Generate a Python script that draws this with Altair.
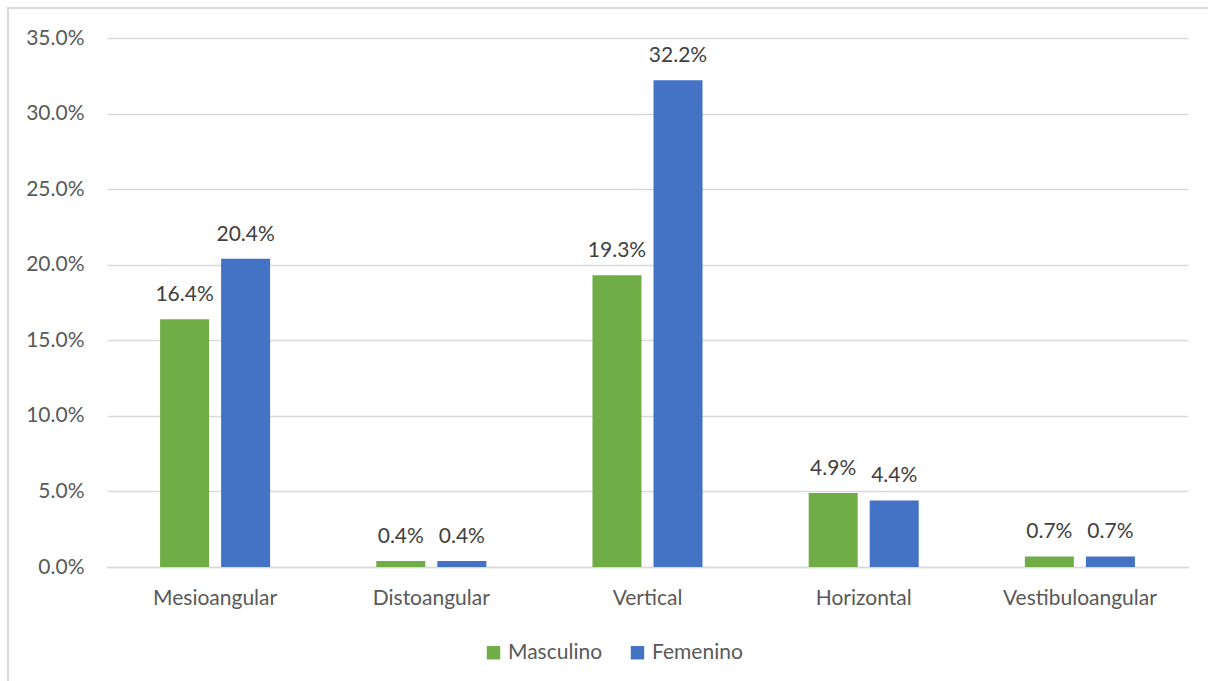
import altair as alt
import pandas as pd

categories = ["Mesioangular", "Distoangular", "Vertical", "Horizontal", "Vestibuloangular"]
masculino = [0.164, 0.004, 0.193, 0.049, 0.007]
femenino = [0.204, 0.004, 0.322, 0.044, 0.007]
series = ["Masculino", "Femenino"]
colors = ["#70AD47", "#4472C4"]
y_ticks = [0.0, 0.05, 0.10, 0.15, 0.20, 0.25, 0.30, 0.35]

rows = []
for i, cat in enumerate(categories):
    rows.append({"categoria": cat, "sexo": series[0], "valor": masculino[i]})
    rows.append({"categoria": cat, "sexo": series[1], "valor": femenino[i]})
df = pd.DataFrame(rows)

FONT = "Lato"
FS = 21
W, H = 1081, 529

x_enc = alt.X("categoria:N", sort=categories, title=None,
              scale=alt.Scale(paddingInner=0.491, paddingOuter=0.2455),
              axis=alt.Axis(labelAngle=0, labelFontSize=FS, labelColor="#595959",
                            labelFont=FONT, labelPadding=20, ticks=False,
                            domainColor="#d9d9d9", domainWidth=1.5))
xo_enc = alt.XOffset("sexo:N", sort=series,
                     scale=alt.Scale(paddingInner=0.197, paddingOuter=0))
y_enc = alt.Y("valor:Q", title=None,
              scale=alt.Scale(domain=[0, 0.35], nice=False),
              axis=alt.Axis(values=y_ticks, format=".1%", labelFontSize=FS,
                            labelColor="#595959", labelFont=FONT, labelPadding=23,
                            ticks=False, domain=False, gridColor="#d9d9d9",
                            gridWidth=1.5))
color_enc = alt.Color("sexo:N", sort=series,
                      scale=alt.Scale(domain=series, range=colors),
                      legend=alt.Legend(title=None, orient="none", direction="horizontal",
                                        legendX=376, legendY=604,
                                        symbolType="square", symbolSize=180,
                                        symbolStrokeWidth=0, labelFontSize=FS,
                                        labelFont=FONT, labelColor="#595959",
                                        labelOffset=4, columnPadding=24))

bars = alt.Chart(df).mark_bar().encode(x=x_enc, xOffset=xo_enc, y=y_enc, color=color_enc)

labels = alt.Chart(df).mark_text(baseline="alphabetic", dy=-18, fontSize=FS, font=FONT,
                                 color="#404040").encode(
    x=alt.X("categoria:N", sort=categories),
    xOffset=alt.XOffset("sexo:N", sort=series),
    y="valor:Q",
    text=alt.Text("valor:Q", format=".1%"),
)

frame = alt.Chart(pd.DataFrame({"k": [0]})).mark_rect(
    fill=None, stroke="#d9d9d9", strokeWidth=2, clip=False
).encode(x=alt.value(-99), x2=alt.value(1120), y=alt.value(-30), y2=alt.value(700))

chart = alt.layer(frame, bars, labels).properties(
    width=W, height=H,
    autosize=alt.AutoSizeParams(type="none"),
    padding={"left": 107, "top": 38, "right": 20, "bottom": 114},
    background="white",
).configure_view(stroke=None)

chart.save("out.html", embed_options={"renderer": "svg", "actions": False})
